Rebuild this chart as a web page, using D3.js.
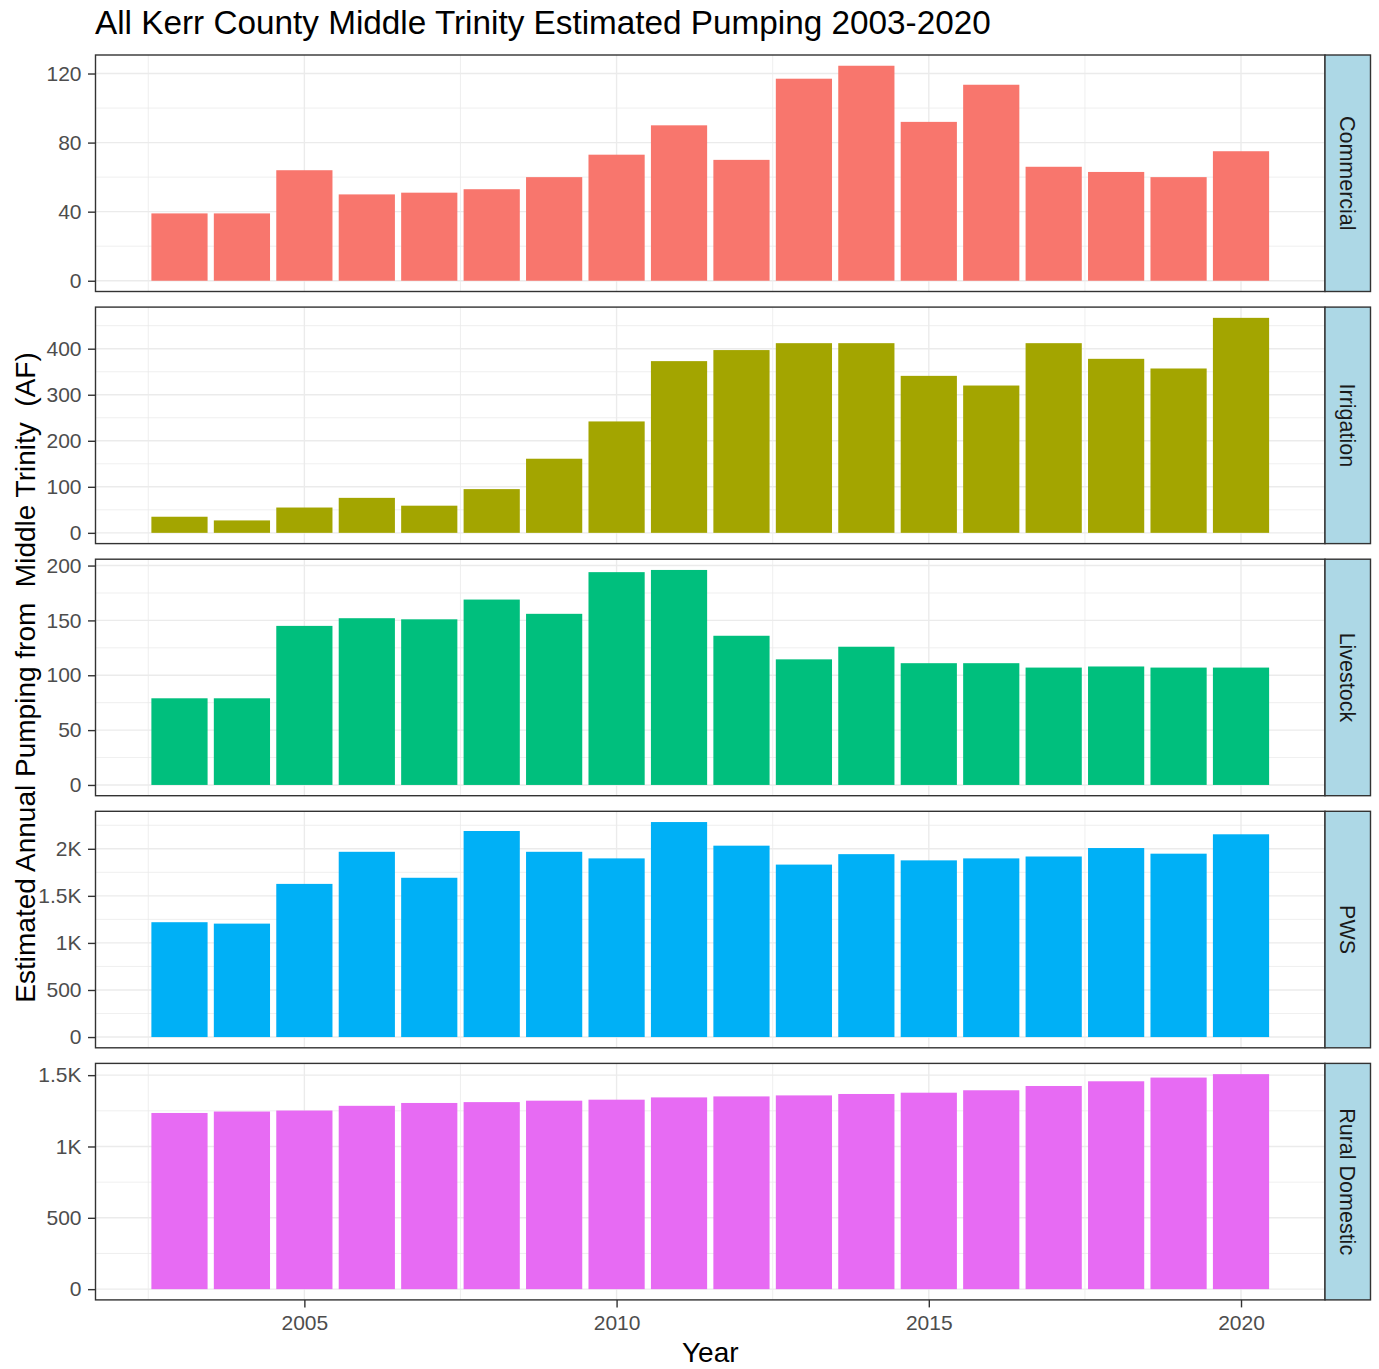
<!DOCTYPE html>
<html>
<head>
<meta charset="utf-8">
<script src="https://cdn.jsdelivr.net/npm/d3@7"></script>
<style>
  body { margin: 0; background: #ffffff; }
  svg { display: block; }
  text { font-family: "Liberation Sans", Arial, sans-serif; }
</style>
</head>
<body>
<svg id="chart" width="1379" height="1369"></svg>
<script>
// ---- data ----
const years = [2003, 2004, 2005, 2006, 2007, 2008, 2009, 2010, 2011, 2012,
               2013, 2014, 2015, 2016, 2017, 2018, 2019, 2020];

const commercial    = [39, 39, 64, 50, 51, 53, 60, 73, 90, 70, 117, 124.5, 92, 113.5, 66, 63, 60, 75];
const irrigation    = [35, 27, 55, 76, 59, 95, 161, 242, 373, 397, 412, 412, 341, 320, 412, 378, 357, 467];
const livestock     = [79, 79, 145, 152, 151, 169, 156, 194, 196, 136, 114.5, 126, 111, 111, 107, 108, 107, 107];
const pws           = [1220, 1205, 1627, 1968, 1692, 2189, 1968, 1898, 2284, 2033, 1832, 1943, 1877, 1898, 1918, 2008, 1948, 2154];
const ruralDomestic = [1235, 1245, 1252, 1285, 1305, 1311, 1321, 1328, 1344, 1351, 1358, 1368, 1377, 1394, 1424, 1457, 1483, 1507];

const facetNames  = ["Commercial", "Irrigation", "Livestock", "PWS", "Rural Domestic"];
const facetColors = ["#F8766D", "#A3A500", "#00BF7D", "#00B0F6", "#E76BF3"];

const commercialTicks = [0, 40, 80, 120];
const irrigationTicks = [0, 100, 200, 300, 400];
const livestockTicks  = [0, 50, 100, 150, 200];
const pwsTicks        = [0, 500, 1000, 1500, 2000];
const ruralTicks      = [0, 500, 1000, 1500];
const yearTicks       = [2005, 2010, 2015, 2020];

const titleText = "All Kerr County Middle Trinity Estimated Pumping 2003-2020";
const xTitle = "Year";
const yTitle = "Estimated Annual Pumping from  Middle Trinity  (AF)";

const facetValues = [commercial, irrigation, livestock, pws, ruralDomestic];
const facetTicks  = [commercialTicks, irrigationTicks, livestockTicks, pwsTicks, ruralTicks];

// ---- layout ----
const panelLeft = 95.5, panelRight = 1325;
const stripWidth = 45.5;
const firstTop = 55, panelStep = 252.1, panelH = 236.5;
const barWidth = 0.9;
const gridColor = "#EBEBEB", inkColor = "#333333";

const svg = d3.select("#chart");

// shared continuous x scale with 5% expansion around the bar extent
const xMin = d3.min(years) - barWidth / 2, xMax = d3.max(years) + barWidth / 2;
const xPad = (xMax - xMin) * 0.05;
const x = d3.scaleLinear().domain([xMin - xPad, xMax + xPad]).range([panelLeft, panelRight]);

const fmt = v => v >= 1000 ? (v / 1000) + "K" : String(v);

facetNames.forEach((name, i) => {
  const values = facetValues[i];
  const ticks = facetTicks[i];
  const top = firstTop + i * panelStep;
  const bottom = top + panelH;
  const vmax = d3.max(values);
  const y = d3.scaleLinear().domain([-0.05 * vmax, 1.05 * vmax]).range([bottom, top]);
  const [d0, d1] = y.domain();

  const g = svg.append("g");

  // panel background
  g.append("rect").attr("x", panelLeft).attr("y", top)
    .attr("width", panelRight - panelLeft).attr("height", panelH).attr("fill", "#ffffff");

  // minor horizontal gridlines
  const step = ticks[1] - ticks[0];
  const minorY = [];
  for (let v = ticks[0] - step / 2; v <= d1; v += step) if (v >= d0) minorY.push(v);
  g.selectAll(".minor-y").data(minorY).join("line")
    .attr("x1", panelLeft).attr("x2", panelRight)
    .attr("y1", d => y(d)).attr("y2", d => y(d))
    .attr("stroke", gridColor).attr("stroke-width", 0.8);

  // minor vertical gridlines
  const xStep = yearTicks[1] - yearTicks[0];
  const minorX = [];
  const [xd0, xd1] = x.domain();
  for (let v = yearTicks[0] - xStep / 2; v <= xd1; v += xStep) if (v >= xd0) minorX.push(v);
  g.selectAll(".minor-x").data(minorX).join("line")
    .attr("x1", d => x(d)).attr("x2", d => x(d))
    .attr("y1", top).attr("y2", bottom)
    .attr("stroke", gridColor).attr("stroke-width", 0.8);

  // major gridlines
  g.selectAll(".major-y").data(ticks).join("line")
    .attr("x1", panelLeft).attr("x2", panelRight)
    .attr("y1", d => y(d)).attr("y2", d => y(d))
    .attr("stroke", gridColor).attr("stroke-width", 1.4);
  g.selectAll(".major-x").data(yearTicks).join("line")
    .attr("x1", d => x(d)).attr("x2", d => x(d))
    .attr("y1", top).attr("y2", bottom)
    .attr("stroke", gridColor).attr("stroke-width", 1.4);

  // bars
  g.selectAll(".bar").data(years.map((yr, k) => ({ yr, v: values[k] }))).join("rect")
    .attr("x", d => x(d.yr - barWidth / 2))
    .attr("width", d => x(d.yr + barWidth / 2) - x(d.yr - barWidth / 2))
    .attr("y", d => y(d.v))
    .attr("height", d => y(0) - y(d.v))
    .attr("fill", facetColors[i]);

  // panel border
  g.append("rect").attr("x", panelLeft).attr("y", top)
    .attr("width", panelRight - panelLeft).attr("height", panelH)
    .attr("fill", "none").attr("stroke", inkColor).attr("stroke-width", 1.4);

  // y axis
  const ax = g.append("g").attr("transform", `translate(${panelLeft},0)`)
    .call(d3.axisLeft(y).tickValues(ticks).tickFormat(fmt).tickSize(7.5).tickPadding(6.5));
  ax.select(".domain").remove();
  ax.selectAll(".tick line").attr("stroke", inkColor).attr("stroke-width", 1.4);
  ax.selectAll(".tick text").attr("fill", "#4D4D4D").attr("font-size", 21)
    .attr("font-family", "'Liberation Sans', Arial, sans-serif");

  // strip
  g.append("rect").attr("x", panelRight).attr("y", top)
    .attr("width", stripWidth).attr("height", panelH)
    .attr("fill", "#ADD8E6").attr("stroke", inkColor).attr("stroke-width", 1.4);
  g.append("text")
    .attr("transform", `translate(${panelRight + stripWidth / 2},${top + panelH / 2}) rotate(90)`)
    .attr("text-anchor", "middle").attr("dy", "0.35em")
    .attr("font-size", 21.5).attr("fill", "#1A1A1A")
    .text(name);

  // x axis on the bottom panel only
  if (i === facetNames.length - 1) {
    const bx = g.append("g").attr("transform", `translate(0,${bottom})`)
      .call(d3.axisBottom(x).tickValues(yearTicks).tickFormat(d3.format("d")).tickSize(7.5).tickPadding(7.5));
    bx.select(".domain").remove();
    bx.selectAll(".tick line").attr("stroke", inkColor).attr("stroke-width", 1.4);
    bx.selectAll(".tick text").attr("fill", "#4D4D4D").attr("font-size", 21)
      .attr("font-family", "'Liberation Sans', Arial, sans-serif");
  }
});

// titles
svg.append("text").attr("x", 95).attr("y", 34)
  .attr("font-size", 33.3).attr("fill", "#000").text(titleText);

svg.append("text").attr("x", (panelLeft + panelRight) / 2).attr("y", 1362)
  .attr("text-anchor", "middle").attr("font-size", 28).attr("fill", "#000").text(xTitle);

const panelsMid = (firstTop + (firstTop + 4 * panelStep + panelH)) / 2;
svg.append("text")
  .attr("transform", `translate(35,${panelsMid}) rotate(-90)`)
  .attr("text-anchor", "middle").attr("font-size", 28).attr("fill", "#000")
  .style("white-space", "pre")
  .text(yTitle);
</script>
</body>
</html>
